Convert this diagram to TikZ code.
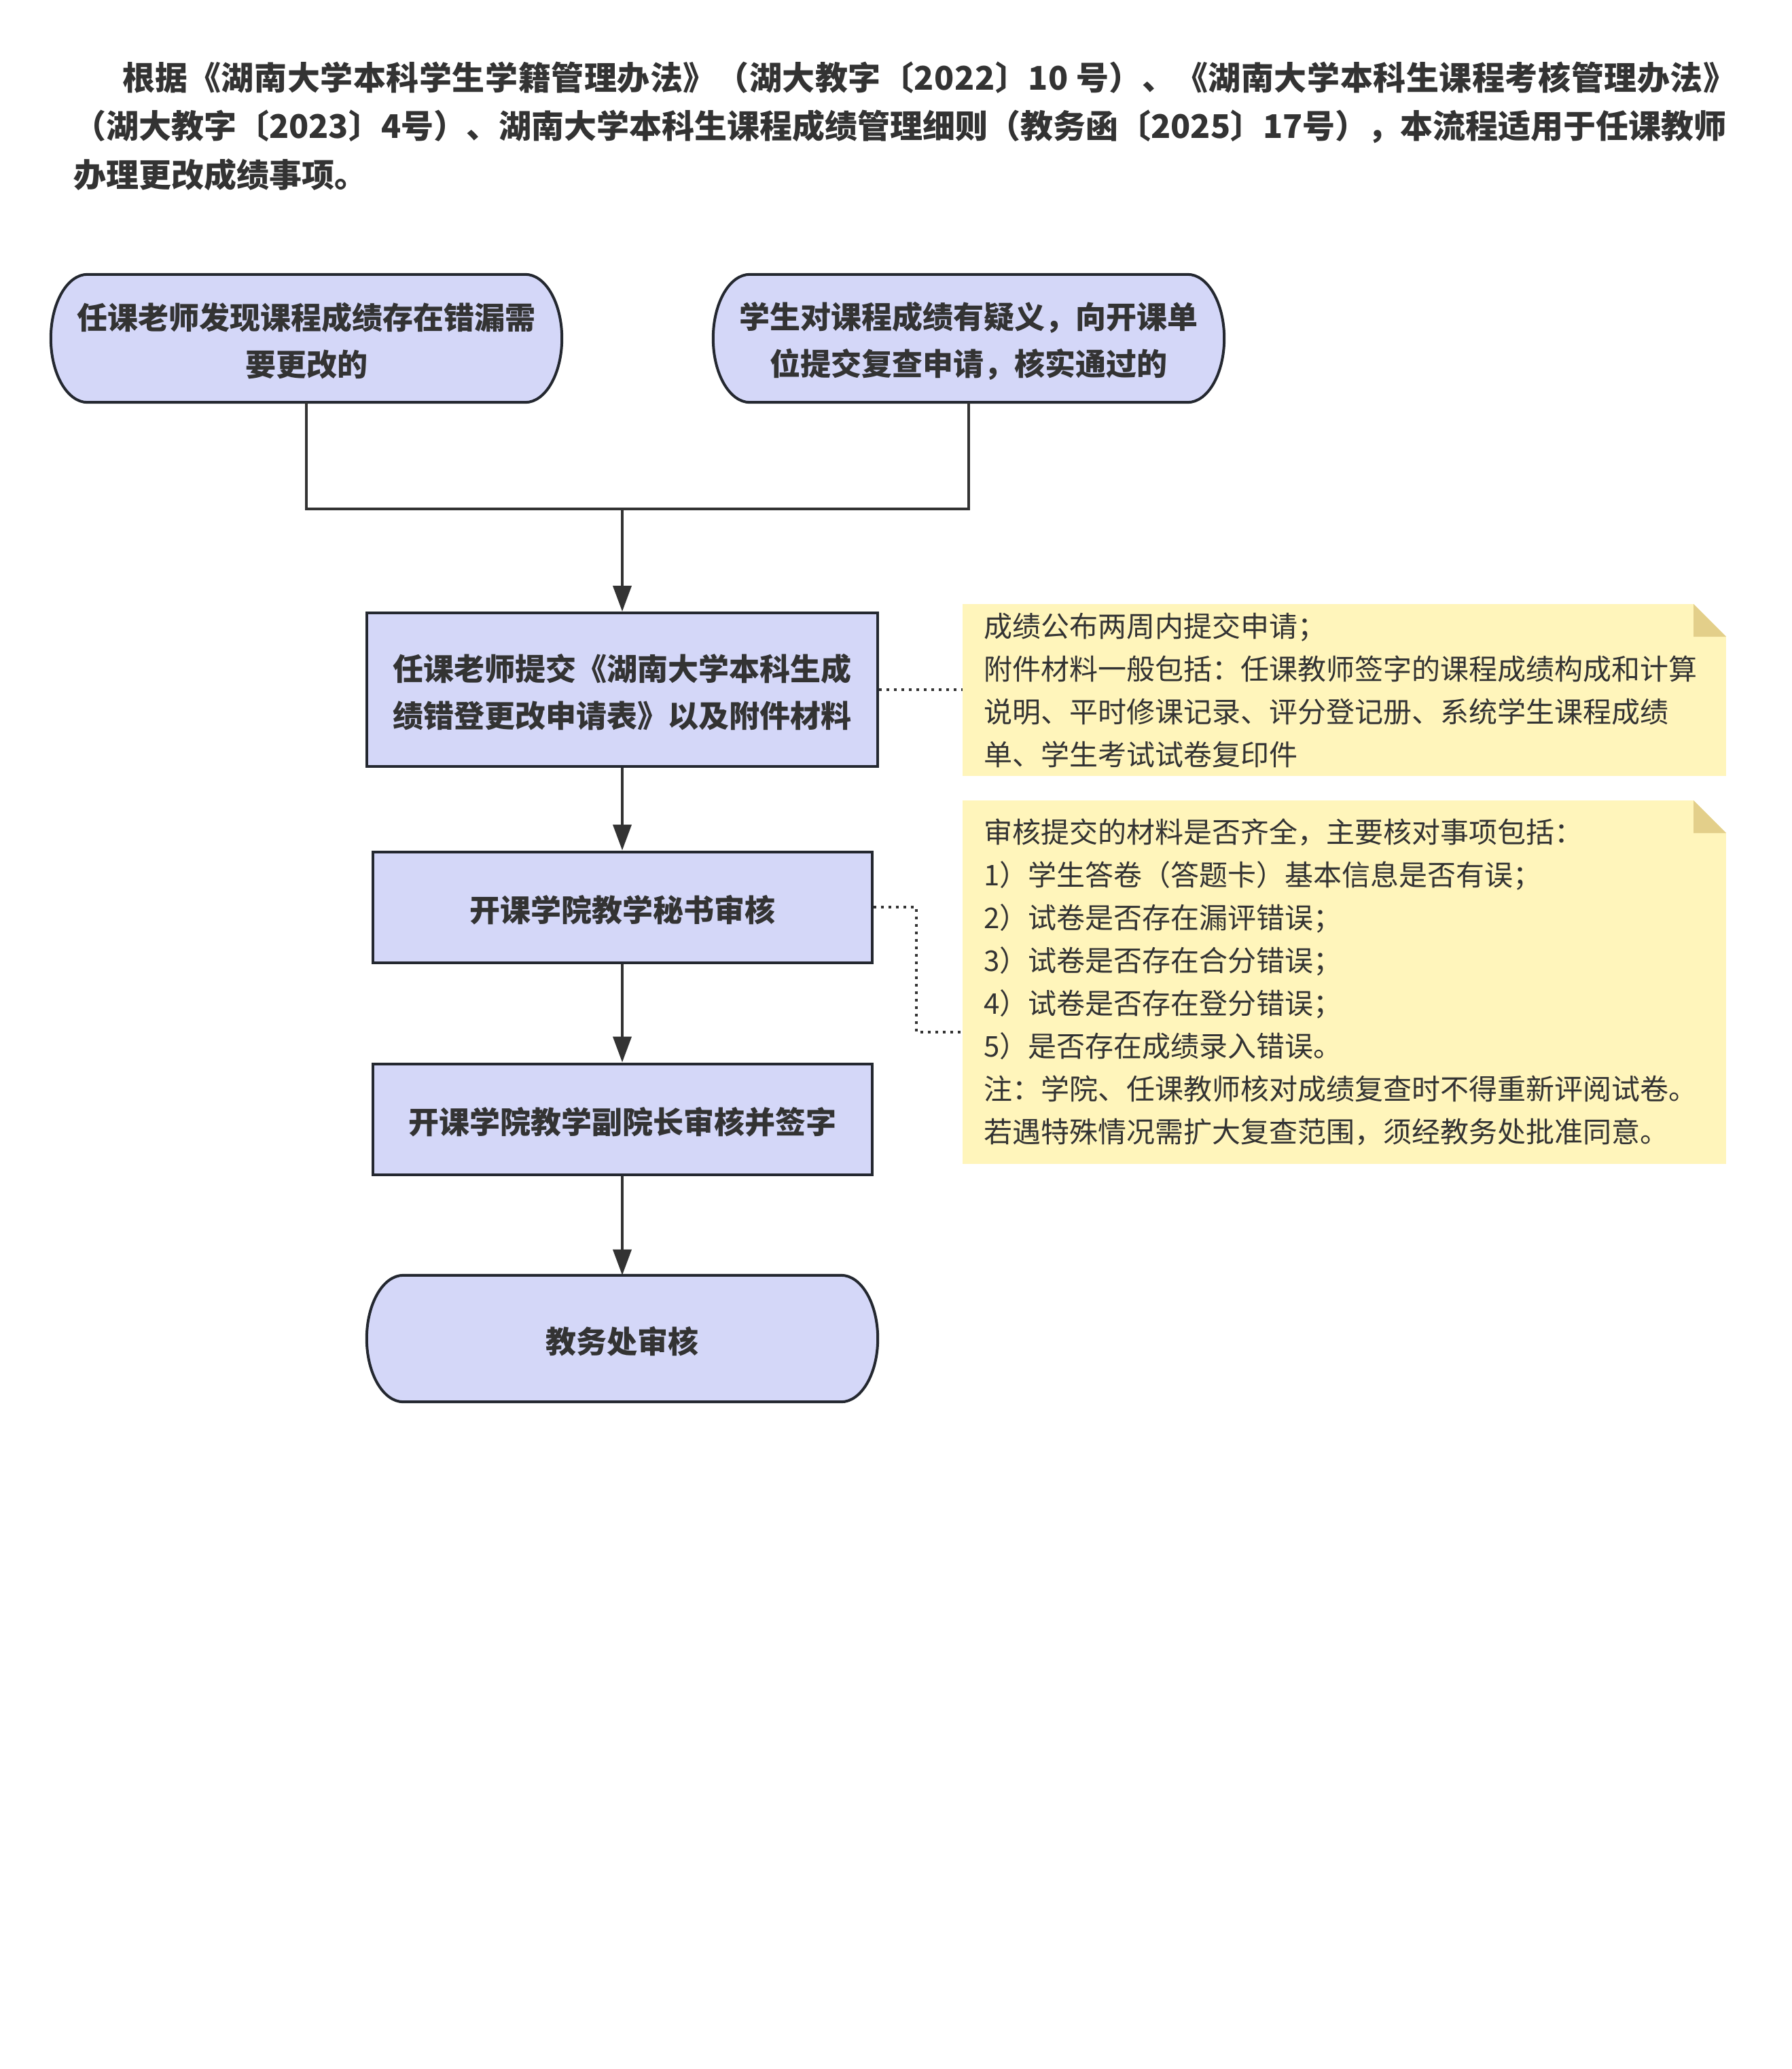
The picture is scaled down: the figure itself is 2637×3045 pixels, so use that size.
\documentclass[tikz,border=0pt]{standalone}
\usepackage{fontspec}
\setmainfont{Noto Sans CJK SC}
\usetikzlibrary{arrows.meta,calc,backgrounds}
\definecolor{boxfill}{RGB}{212,215,248}
\definecolor{boxline}{RGB}{36,40,48}
\definecolor{ink}{RGB}{51,51,51}
\definecolor{notefill}{RGB}{255,245,187}
\definecolor{foldc}{RGB}{227,207,138}
\tikzset{
  titletext/.style={font=\bfseries\fontsize{48}{72}\selectfont, text=ink, inner sep=0pt},
  boxtext/.style={font=\bfseries\fontsize{45}{69}\selectfont, text=ink, align=center, inner sep=0pt},
  boxlabel/.style={label={[boxtext, yshift=-4pt]center:#1}},
  procbox/.style={draw=boxline, line width=4pt, fill=boxfill, inner sep=0pt},
  stadbox/.style={inner sep=0pt},
  notebox/.style={fill=notefill, text=ink, font=\fontsize{42}{63}\selectfont, align=left,
    text width=1062pt, inner xsep=31pt, inner ysep=0pt,
    path picture={
      \fill[white] (path picture bounding box.north east) -- ++(-48pt,0pt) -- ++(48pt,-48pt) -- cycle;
      \fill[foldc] ($(path picture bounding box.north east)+(-48pt,0pt)$) -- ++(0pt,-48pt) -- ++(48pt,0pt) -- cycle;
    }},
  flow/.style={draw=ink, line width=4pt, -{Triangle[width=27pt,length=38pt]}},
  link/.style={draw=ink, line width=4pt},
  dotlink/.style={draw=ink, line width=4pt, dash pattern=on 4pt off 7pt}
}
\newcommand\stadiumshape[1]{%
  \path[fill=boxfill, draw=boxline, line width=4pt]
   let \p1=(#1.north west), \p2=(#1.south east), \n1={0.5*(\y1-\y2)} in
   (\x1+54pt,\y1) -- (\x2-54pt,\y1)
   arc[start angle=90, end angle=-90, x radius=54pt, y radius=\n1]
   -- (\x1+54pt,\y2)
   arc[start angle=270, end angle=90, x radius=54pt, y radius=\n1] -- cycle;}
\begin{document}
\begin{tikzpicture}[x=1pt,y=1pt]
\useasboundingbox (0,0) rectangle (2637,-3045);

\node[titletext, anchor=base west] (t1) at (180,-133) {\addfontfeature{LetterSpace=1.2}根据《湖南大学本科学生学籍管理办法》（湖大教字〔2022〕10 号）、《湖南大学本科生课程考核管理办法》};
\node[titletext, anchor=base west] (t2) at (108,-204) {（湖大教字〔2023〕4号）、湖南大学本科生课程成绩管理细则（教务函〔2025〕17号），本流程适用于任课教师};
\node[titletext, anchor=base west] (t3) at (108,-276) {办理更改成绩事项。};

\node[stadbox, minimum width=752pt, minimum height=188pt, boxlabel={任课老师发现课程成绩存在错漏需\\要更改的}] (b1) at (451,-498) {};
\node[stadbox, minimum width=752pt, minimum height=188pt, boxlabel={学生对课程成绩有疑义，向开课单\\位提交复查申请，核实通过的}] (b2) at (1426,-498) {};
\node[procbox, minimum width=752pt, minimum height=226pt, boxlabel={任课老师提交《湖南大学本科生成\\绩错登更改申请表》以及附件材料}] (b3) at (916,-1015) {};
\node[procbox, minimum width=735pt, minimum height=163pt, boxlabel={开课学院教学秘书审核}] (b4) at (916,-1335) {};
\node[procbox, minimum width=735pt, minimum height=163pt, boxlabel={开课学院教学副院长审核并签字}] (b5) at (916,-1647) {};
\node[stadbox, minimum width=752pt, minimum height=186pt, boxlabel={教务处审核}] (b6) at (916,-1970) {};

\node[notebox, minimum height=253pt] (n1) at (1979,-1015.5) {成绩公布两周内提交申请；\\附件材料一般包括：任课教师签字的课程成绩构成和计算\\说明、平时修课记录、评分登记册、系统学生课程成绩\\单、学生考试试卷复印件};
\node[notebox, minimum height=535pt] (n2) at (1979,-1445.5) {审核提交的材料是否齐全，主要核对事项包括：\\1）学生答卷（答题卡）基本信息是否有误；\\2）试卷是否存在漏评错误；\\3）试卷是否存在合分错误；\\4）试卷是否存在登分错误；\\5）是否存在成绩录入错误。\\注：学院、任课教师核对成绩复查时不得重新评阅试卷。\\若遇特殊情况需扩大复查范围，须经教务处批准同意。};

\begin{pgfonlayer}{background}
\fill[white] (0,0) rectangle (2637,-3045);
\stadiumshape{b1}
\stadiumshape{b2}
\stadiumshape{b6}
\end{pgfonlayer}

\coordinate (m) at (916,-749);
\draw[link] (b1.south) |- (m) -| (b2.south);
\draw[flow] (m) -- (b3.north);
\draw[flow] (b3.south) -- (b4.north);
\draw[flow] (b4.south) -- (b5.north);
\draw[flow] (b5.south) -- (b6.north);

\coordinate (d2) at (1417,-1519);
\draw[dotlink] (b3.east) -- (b3.east -| n1.west);
\draw[dotlink] (b4.east) -| ($(d2)+(-68,0)$) -- (d2);
\end{tikzpicture}
\end{document}
